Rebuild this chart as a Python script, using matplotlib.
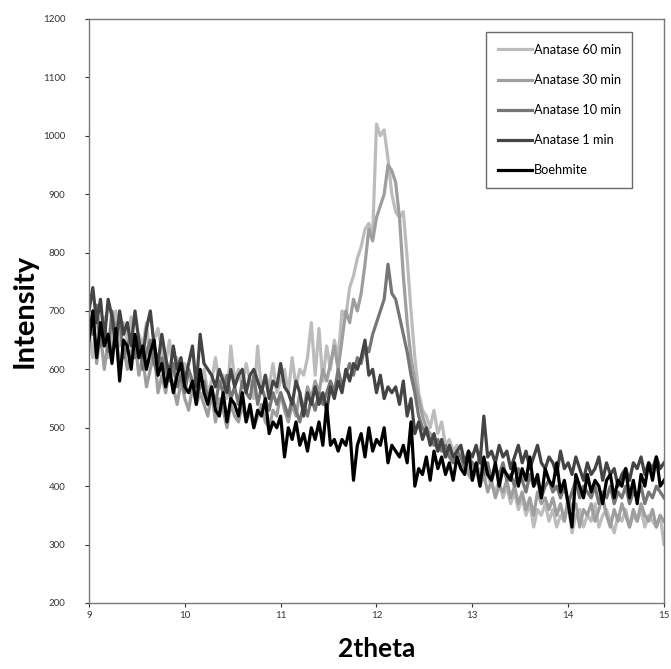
import numpy as np
import matplotlib.pyplot as plt

plt.rcParams['font.family'] = ['Lato', 'DejaVu Sans']

# 2theta grid, step 0.04 from 9 to 15
two_theta = np.round(np.arange(151) * 0.04 + 9.0, 2)

anatase_60 = [
    660, 620, 700, 640, 690, 620, 660, 700, 640, 680,
    650, 690, 620, 660, 640, 680, 610, 650, 670, 630,
    610, 650, 590, 620, 580, 610, 600, 560, 590, 570,
    600, 560, 580, 620, 570, 590, 550, 640, 580, 600,
    570, 610, 580, 550, 640, 560, 590, 570, 610, 560,
    580, 600, 560, 620, 570, 600, 590, 620, 680, 590,
    670, 580, 640, 600, 650, 620, 700, 690, 740, 760,
    790, 810, 840, 850, 830, 1020, 1000, 1010, 960, 900,
    870, 860, 870, 790, 700, 620, 560, 530, 520, 500,
    530, 490, 510, 470, 480, 460, 470, 450, 440, 430,
    440, 420, 430, 410, 420, 400, 390, 410, 380, 400,
    370, 390, 360, 380, 350, 370, 330, 360, 350, 370,
    340, 360, 330, 350, 340, 370, 320, 350, 360, 330,
    350, 340, 370, 330, 350, 360, 340, 320, 350, 340,
    360, 330, 350, 340, 360, 330, 350, 340, 330, 350,
    300]

anatase_30 = [
    640, 700, 610, 660, 600, 650, 620, 680, 590, 640,
    600, 630, 650, 590, 620, 570, 600, 630, 560, 590,
    560, 600, 570, 540, 580, 550, 530, 570, 540, 560,
    540, 520, 560, 510, 550, 530, 500, 540, 520, 510,
    540, 510, 530, 500, 520, 540, 510, 500, 530, 520,
    560, 530, 510, 540, 520, 560, 530, 570, 550, 580,
    560, 600, 580, 610, 640, 600, 650, 700, 680, 720,
    700, 730, 780, 840, 820, 860, 880, 900, 950, 940,
    920, 860, 760, 680, 620, 580, 550, 520, 500, 490,
    480, 460, 470, 450, 460, 440, 450, 430, 440, 420,
    410, 430, 400, 420, 390, 410, 380, 400, 390, 410,
    380, 400, 370, 390, 360, 380, 350, 390, 370, 380,
    360, 380, 350, 370, 340, 380, 360, 370, 330, 360,
    350, 370, 340, 360, 380, 350, 330, 360, 340, 370,
    350, 330, 360, 340, 370, 350, 340, 360, 330, 350,
    340]

anatase_10 = [
    690, 660, 710, 640, 680, 630, 700, 650, 690, 620,
    640, 660, 620, 650, 600, 630, 650, 610, 590, 620,
    600, 580, 610, 570, 590, 560, 600, 580, 550, 570,
    580, 550, 570, 540, 580, 560, 590, 550, 570, 540,
    580, 560, 550, 590, 540, 570, 550, 530, 560, 540,
    560, 540, 520, 550, 530, 510, 540, 520, 550, 530,
    560, 540, 560, 580, 560, 600, 570, 590, 610, 590,
    620, 610, 640, 630, 660, 680, 700, 720, 780, 730,
    720, 690, 660, 630, 590, 560, 520, 500, 490, 480,
    470, 480, 460, 470, 450, 440, 460, 450, 430, 450,
    440, 430, 450, 420, 440, 410, 430, 420, 440, 410,
    420, 400, 430, 410, 390, 420, 400, 410, 380, 400,
    410, 390, 400, 380, 400, 370, 390, 410, 380, 400,
    390, 380, 400, 370, 390, 380, 400, 370, 390, 380,
    400, 370, 390, 380, 400, 370, 390, 380, 400, 390,
    380]

anatase_1 = [
    700, 740, 680, 720, 650, 720, 690, 640, 700, 660,
    680, 640, 700, 650, 620, 670, 700, 640, 610, 660,
    620, 590, 640, 600, 620, 580, 610, 640, 570, 660,
    610, 600, 590, 570, 600, 580, 560, 600, 570, 590,
    600, 560, 590, 600, 580, 560, 590, 550, 580, 570,
    610, 570, 560, 540, 580, 560, 520, 560, 540, 570,
    540, 560, 530, 570, 550, 580, 560, 600, 580, 610,
    600, 620, 650, 590, 600, 560, 590, 550, 570, 560,
    570, 540, 580, 520, 550, 490, 510, 480, 500, 470,
    490, 460, 480, 450, 470, 450, 460, 470, 440, 460,
    450, 470, 440, 520, 450, 460, 440, 470, 450, 460,
    430, 450, 470, 440, 460, 430, 450, 470, 440, 430,
    450, 440, 420, 460, 430, 440, 420, 450, 430, 410,
    440, 420, 430, 450, 410, 440, 420, 430, 400, 420,
    430, 410, 440, 430, 450, 420, 440, 430, 450, 430,
    440]

boehmite = [
    650, 700, 620, 680, 640, 660, 610, 670, 580, 650,
    640, 600, 660, 620, 640, 600, 630, 650, 590, 610,
    570, 600, 560, 590, 610, 570, 560, 580, 540, 600,
    560, 540, 570, 530, 520, 560, 510, 550, 540, 520,
    560, 510, 540, 500, 530, 520, 550, 490, 510, 500,
    520, 450, 500, 480, 510, 470, 490, 460, 500, 480,
    510, 470, 540, 470, 480, 460, 480, 470, 500, 410,
    470, 490, 450, 500, 460, 480, 470, 500, 440, 470,
    460, 450, 470, 440, 510, 400, 430, 420, 450, 410,
    460, 430, 450, 420, 440, 410, 450, 430, 420, 460,
    410, 440, 400, 450, 420, 410, 440, 400, 430, 420,
    410, 440, 400, 430, 410, 450, 400, 420, 380, 430,
    410, 400, 440, 390, 410, 370, 330, 420, 400, 380,
    420, 390, 410, 400, 370, 410, 420, 380, 410, 400,
    430, 380, 410, 370, 420, 400, 440, 410, 450, 400,
    410]

series = [
    ("Anatase 60 min", anatase_60, "#bcbcbc"),
    ("Anatase 30 min", anatase_30, "#9e9e9e"),
    ("Anatase 10 min", anatase_10, "#767676"),
    ("Anatase 1 min", anatase_1, "#444444"),
    ("Boehmite", boehmite, "#000000"),
]

fig = plt.figure(figsize=(6.71, 6.69), dpi=100)
ax = fig.add_axes([0.1326, 0.0987, 0.857, 0.873])

for name, vals, col in series:
    ax.plot(two_theta, vals, color=col, lw=2.3, label=name)

ax.set_xlim(9, 15)
ax.set_ylim(200, 1200)
ax.set_xticks(range(9, 16))
ax.set_yticks(range(200, 1201, 100))
ax.tick_params(labelsize=7, colors="#333333", length=3, width=0.8)
ax.tick_params(axis="y", pad=14)
ax.tick_params(axis="x", pad=3)
for s in ax.spines.values():
    s.set_color("#777777")
    s.set_linewidth(1.0)

ax.set_xlabel("2theta", fontsize=19, fontweight="bold", labelpad=12)
ax.set_ylabel("Intensity", fontsize=21, fontweight="bold", labelpad=4)

leg = ax.legend(loc="upper right", bbox_to_anchor=(0.945, 0.977), fontsize=9.2,
                frameon=True, fancybox=False, edgecolor="#444444",
                handlelength=2.7, handletextpad=0.1, labelspacing=1.42,
                borderpad=0.9, borderaxespad=0)
leg.get_frame().set_linewidth(1.0)

plt.savefig("out.png")
